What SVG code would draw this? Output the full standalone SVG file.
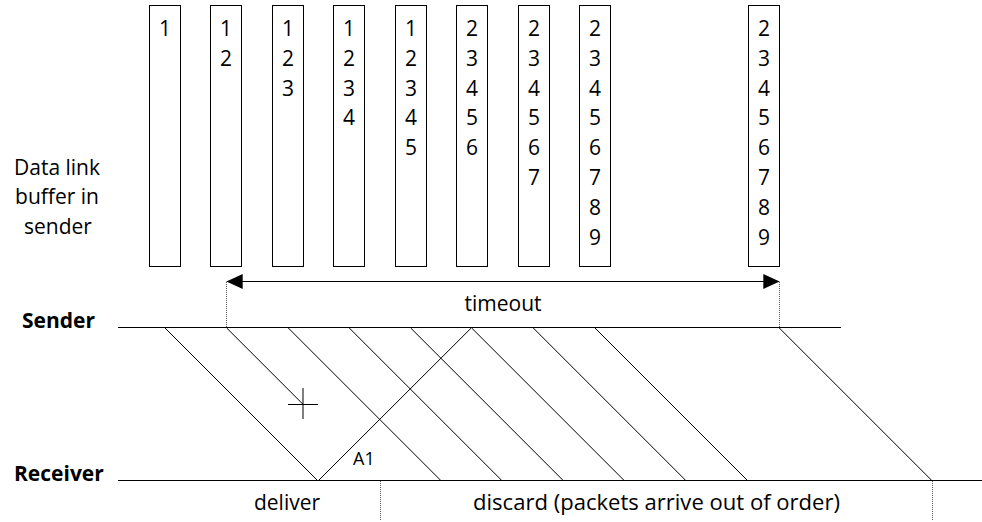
<svg xmlns="http://www.w3.org/2000/svg" width="982" height="522" viewBox="0 0 982 522">
  <style>
    text { font-family: "Open Sans", "Liberation Sans", sans-serif; font-size: 21px; fill: #000; }
    .buf { fill: #fff; stroke: #000; stroke-width: 1; }
    .num { text-anchor: middle; }
    .lbl { text-anchor: middle; }
    .bold { font-weight: bold; }
    .ln { stroke: #000; stroke-width: 1; fill: none; }
    .dot { stroke: #555; stroke-width: 1; stroke-dasharray: 1 1; fill: none; }
  </style>
  <defs>
    <marker id="head" markerUnits="userSpaceOnUse" markerWidth="16" markerHeight="16" refX="16" refY="7.5" orient="auto-start-reverse" viewBox="0 0 16 15">
      <path d="M0,0 L16,7.5 L0,15 z" fill="#000"/>
    </marker>
  </defs>
  <rect width="982" height="522" fill="#fff"/>

  <!-- side label -->
  <g id="buffer-label">
    <text class="lbl" x="57" y="174.5">Data link</text>
    <text class="lbl" x="57" y="204">buffer in</text>
    <text class="lbl" x="58" y="233.5">sender</text>
  </g>

  <!-- sender buffer snapshots -->
  <g id="buf1">
    <rect class="buf" x="149.5" y="5.5" width="31" height="261"/>
    <text class="num" x="165" y="36">1</text>
  </g>
  <g id="buf2">
    <rect class="buf" x="210.5" y="5.5" width="31" height="261"/>
    <text class="num" y="36"><tspan x="226">1</tspan><tspan x="226" dy="29.8">2</tspan></text>
  </g>
  <g id="buf3">
    <rect class="buf" x="272.5" y="5.5" width="31" height="261"/>
    <text class="num" y="36"><tspan x="288">1</tspan><tspan x="288" dy="29.8">2</tspan><tspan x="288" dy="29.8">3</tspan></text>
  </g>
  <g id="buf4">
    <rect class="buf" x="333.5" y="5.5" width="31" height="261"/>
    <text class="num" y="36"><tspan x="349">1</tspan><tspan x="349" dy="29.8">2</tspan><tspan x="349" dy="29.8">3</tspan><tspan x="349" dy="29.8">4</tspan></text>
  </g>
  <g id="buf5">
    <rect class="buf" x="395.5" y="5.5" width="31" height="261"/>
    <text class="num" y="36"><tspan x="411">1</tspan><tspan x="411" dy="29.8">2</tspan><tspan x="411" dy="29.8">3</tspan><tspan x="411" dy="29.8">4</tspan><tspan x="411" dy="29.8">5</tspan></text>
  </g>
  <g id="buf6">
    <rect class="buf" x="456.5" y="5.5" width="31" height="261"/>
    <text class="num" y="36"><tspan x="472">2</tspan><tspan x="472" dy="29.8">3</tspan><tspan x="472" dy="29.8">4</tspan><tspan x="472" dy="29.8">5</tspan><tspan x="472" dy="29.8">6</tspan></text>
  </g>
  <g id="buf7">
    <rect class="buf" x="518.5" y="5.5" width="31" height="261"/>
    <text class="num" y="36"><tspan x="534">2</tspan><tspan x="534" dy="29.8">3</tspan><tspan x="534" dy="29.8">4</tspan><tspan x="534" dy="29.8">5</tspan><tspan x="534" dy="29.8">6</tspan><tspan x="534" dy="29.8">7</tspan></text>
  </g>
  <g id="buf8">
    <rect class="buf" x="579.5" y="5.5" width="31" height="261"/>
    <text class="num" y="36"><tspan x="595">2</tspan><tspan x="595" dy="29.8">3</tspan><tspan x="595" dy="29.8">4</tspan><tspan x="595" dy="29.8">5</tspan><tspan x="595" dy="29.8">6</tspan><tspan x="595" dy="29.8">7</tspan><tspan x="595" dy="29.8">8</tspan><tspan x="595" dy="29.8">9</tspan></text>
  </g>
  <g id="buf9">
    <rect class="buf" x="748.5" y="5.5" width="31" height="261"/>
    <text class="num" y="36"><tspan x="764">2</tspan><tspan x="764" dy="29.8">3</tspan><tspan x="764" dy="29.8">4</tspan><tspan x="764" dy="29.8">5</tspan><tspan x="764" dy="29.8">6</tspan><tspan x="764" dy="29.8">7</tspan><tspan x="764" dy="29.8">8</tspan><tspan x="764" dy="29.8">9</tspan></text>
  </g>

  <!-- time lines -->
  <g id="sender">
    <text class="bold" x="22" y="328">Sender</text>
    <line class="ln" x1="118" y1="327.5" x2="841" y2="327.5"/>
  </g>
  <g id="receiver">
    <text class="bold" x="14" y="481">Receiver</text>
    <line class="ln" x1="118" y1="480.5" x2="982" y2="480.5"/>
  </g>

  <g id="timeout">
    <text class="lbl" x="503" y="311">timeout</text>
  </g>
  <g id="labels">
    <text class="lbl" x="287" y="510">deliver</text>
    <text x="473" y="510" textLength="367" lengthAdjust="spacingAndGlyphs">discard (packets arrive out of order)</text>
    <text x="353" y="465" style="font-size:18px">A1</text>
  </g>

  <!-- frames, acknowledgement and timer -->
  <g id="connectors">
    <line class="ln" x1="226.7" y1="281.5" x2="779.3" y2="281.5" marker-start="url(#head)" marker-end="url(#head)"/>
    <line class="dot" x1="226.5" y1="282" x2="226.5" y2="327"/>
    <line class="dot" x1="779.5" y1="282" x2="779.5" y2="327"/>
    <line class="dot" x1="380.5" y1="481" x2="380.5" y2="521"/>
    <line class="dot" x1="932.5" y1="481" x2="932.5" y2="521"/>

    <line class="ln" x1="165" y1="328" x2="318" y2="481"/>
    <line class="ln" x1="226.7" y1="328" x2="303" y2="404.3"/>
    <line class="ln" x1="288.3" y1="328" x2="441.3" y2="481"/>
    <line class="ln" x1="349.3" y1="328" x2="502.3" y2="481"/>
    <line class="ln" x1="410.7" y1="328" x2="563.7" y2="481"/>
    <line class="ln" x1="471.7" y1="328" x2="624.7" y2="481"/>
    <line class="ln" x1="533.3" y1="328" x2="686.3" y2="481"/>
    <line class="ln" x1="595" y1="328" x2="748" y2="481"/>
    <line class="ln" x1="779.3" y1="328" x2="932.3" y2="481"/>

    <line class="ln" x1="318" y1="481" x2="471.7" y2="327.5"/>

    <line class="ln" x1="288" y1="404.5" x2="318" y2="404.5"/>
    <line class="ln" x1="303" y1="388" x2="303" y2="419"/>
  </g>
</svg>
